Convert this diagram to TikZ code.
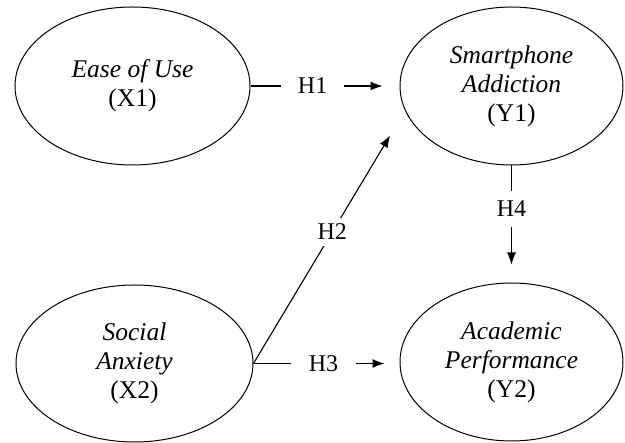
\documentclass[tikz,border=0pt]{standalone}
\usepackage{fontspec}
\setmainfont{Liberation Serif}
\usetikzlibrary{shapes.geometric,arrows.meta}
\begin{document}
\begin{tikzpicture}[x=1pt,y=-1pt,
  latent/.style={ellipse, draw, line width=1pt, inner sep=0pt, align=center,
    font=\fontsize{25.5}{29}\selectfont},
  arr/.style={draw, line width=1.1pt, -{Latex[length=12pt,width=9pt]}},
  lbl/.style={fill=white, font=\fontsize{24}{28}\selectfont, inner ysep=2pt}]
\useasboundingbox (0,0) rectangle (625,443);
\node[latent, minimum width=235pt, minimum height=158pt] (X1) at (132.5,86) {\textit{Ease of Use}\\(X1)};
\node[latent, minimum width=223pt, minimum height=158pt] (Y1) at (511.5,86) {\textit{Smartphone}\\\textit{Addiction}\\(Y1)};
\node[latent, minimum width=237pt, minimum height=157pt] (X2) at (134.5,363.5) {\textit{Social}\\\textit{Anxiety}\\(X2)};
\node[latent, minimum width=223pt, minimum height=158pt] (Y2) at (511.5,362) {\textit{Academic}\\\textit{Performance}\\(Y2)};
\draw[arr, shorten >=17pt] (X1.east) -- (X1.east -| Y1.west)
  node[lbl, pos=0.417, inner xsep=17pt] {H1};
\draw[arr, shorten >=29pt] (X2.east) -- (Y1.193)
  node[lbl, pos=0.52, inner xsep=6pt, inner ysep=6pt] {H2};
\draw[arr, shorten >=15pt] (X2.east) -- (X2.east -| Y2.west)
  node[lbl, pos=0.48, inner xsep=18pt] {H3};
\draw[arr, shorten >=18pt] (Y1.south) -- (Y2.north)
  node[lbl, pos=0.37, inner xsep=4pt, inner ysep=10pt] {H4};
\end{tikzpicture}
\end{document}
